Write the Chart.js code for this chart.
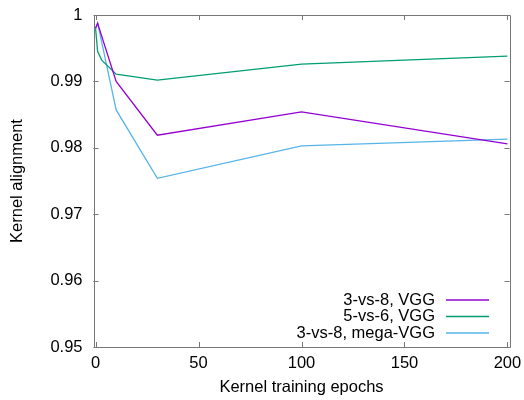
<!DOCTYPE html>
<html><head><meta charset="utf-8">
<script src="https://cdn.jsdelivr.net/npm/chart.js@4/dist/chart.umd.min.js"></script>
<style>html,body{margin:0;padding:0;background:#fff}#c{display:block}</style>
</head><body>
<div style="width:524px;height:400px"><canvas id="c" width="524" height="400"></canvas></div>
<script>
const seriesNames = ["3-vs-8, VGG", "5-vs-6, VGG", "3-vs-8, mega-VGG"];
const seriesColors = ["#9400d3", "#009e73", "#56b4e9"];
const epochsA = [0, 1, 10, 30, 100, 200];
const vgg38 = [0.998, 0.99875, 0.99, 0.9819, 0.9854, 0.9806];
const epochsB = [0, 1, 3, 10, 30, 100, 200];
const vgg56 = [0.998, 0.9945, 0.9932, 0.9911, 0.9902, 0.9926, 0.9938];
const epochsC = [0, 1, 10, 30, 100, 200];
const mega38 = [0.998, 0.9988, 0.9857, 0.9754, 0.9803, 0.9813];
const xTicks = [0, 50, 100, 150, 200];
const yTicks = [0.95, 0.96, 0.97, 0.98, 0.99, 1];
const xTitle = "Kernel training epochs";
const yTitle = "Kernel alignment";

const FONT = "'Liberation Sans', Arial, sans-serif";
const FS = 16.5;
function pts(xs, ys){ return xs.map((x,i)=>({x:x, y:ys[i]})); }

const frame = {
  id: 'frame',
  afterDatasetsDraw(chart){
    const {ctx, chartArea:a, scales:{x, y}} = chart;
    ctx.save();
    ctx.strokeStyle = '#777';
    ctx.lineWidth = 1;
    ctx.beginPath();
    ctx.rect(Math.round(a.left)+0.5, Math.round(a.top)+0.5, Math.round(a.right-a.left), Math.round(a.bottom-a.top));
    ctx.stroke();
    const L = 5;
    ctx.beginPath();
    xTicks.forEach(v=>{
      const px = Math.round(x.getPixelForValue(v))+0.5;
      ctx.moveTo(px, a.bottom); ctx.lineTo(px, a.bottom-L);
      ctx.moveTo(px, a.top); ctx.lineTo(px, a.top+L);
    });
    yTicks.forEach(v=>{
      const py = Math.round(y.getPixelForValue(v))+0.5;
      ctx.moveTo(a.left, py); ctx.lineTo(a.left+L, py);
      ctx.moveTo(a.right, py); ctx.lineTo(a.right-L, py);
    });
    ctx.stroke();
    // legend
    ctx.font = FS + "px " + FONT;
    ctx.textAlign = 'right';
    ctx.textBaseline = 'middle';
    const rows = [300, 316.5, 333];
    chart.data.datasets.forEach((ds,i)=>{
      const yy = rows[i];
      ctx.fillStyle = '#000';
      ctx.fillText(ds.label, 435, yy);
      ctx.strokeStyle = ds.borderColor;
      ctx.lineWidth = 1.3;
      ctx.beginPath();
      ctx.moveTo(446, yy); ctx.lineTo(489, yy);
      ctx.stroke();
    });
    ctx.restore();
  }
};

new Chart(document.getElementById('c'), {
  type: 'line',
  data: {
    datasets: [
      {label: seriesNames[0], data: pts(epochsA, vgg38), borderColor: seriesColors[0]},
      {label: seriesNames[1], data: pts(epochsB, vgg56), borderColor: seriesColors[1]},
      {label: seriesNames[2], data: pts(epochsC, mega38), borderColor: seriesColors[2]}
    ].map(d=>Object.assign(d, {borderWidth:1.3, pointRadius:0, tension:0, fill:false}))
  },
  options: {
    responsive: false,
    animation: false,
    events: [],
    layout: {padding: {left: 0, right: 14.5, top: 15, bottom: 0}},
    plugins: {legend: {display: false}, tooltip: {enabled: false}},
    scales: {
      x: {
        type: 'linear', min: -1, max: 201,
        afterBuildTicks(s){ s.ticks = xTicks.map(v=>({value:v})); },
        afterFit(s){ s.height = 53; s.paddingLeft = 0; s.paddingRight = 0; },
        grid: {display: false, drawTicks: false},
        border: {display: false},
        ticks: {color: '#000', font: {family: FONT, size: FS}, padding: 7, maxRotation: 0},
        title: {display: true, text: xTitle, color: '#000', font: {family: FONT, size: FS}, padding: {top: 0, bottom: 3}}
      },
      y: {
        type: 'linear', min: 0.95, max: 1,
        afterBuildTicks(s){ s.ticks = yTicks.map(v=>({value:v})); },
        afterFit(s){ s.width = 93.5; s.paddingTop = 0; s.paddingBottom = 0; },
        grid: {display: false, drawTicks: false},
        border: {display: false},
        ticks: {color: '#000', font: {family: FONT, size: FS}, padding: 11,
          callback: v => String(Number(v.toFixed(2)))},
        title: {display: true, text: yTitle, color: '#000', font: {family: FONT, size: FS}, padding: {top: 8, bottom: 0}}
      }
    }
  },
  plugins: [frame]
});
</script>
</body></html>
